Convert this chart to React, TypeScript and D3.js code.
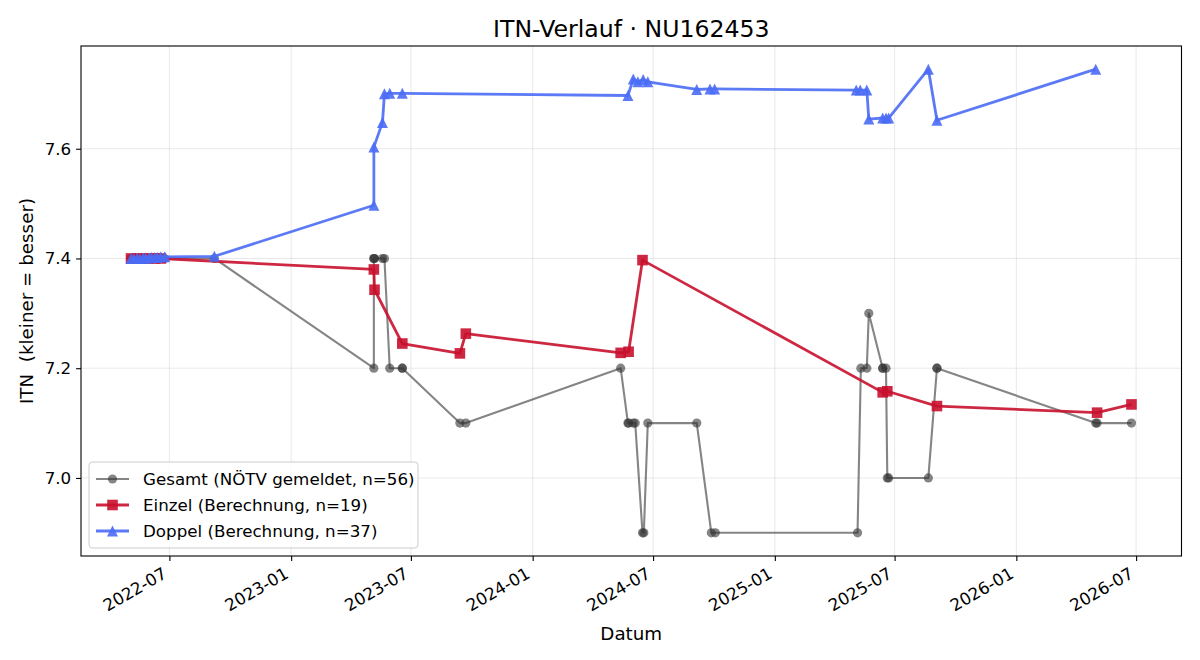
import React, { useRef, useEffect } from 'react';
import * as d3 from 'd3';

const W = 1200;
const H = 660;

// Gesamt (NÖTV gemeldet)
const gesamt: [string, number][] = [
  ['2022-05-04', 7.4], ['2022-05-04', 7.4], ['2022-05-08', 7.4], ['2022-05-13', 7.4], ['2022-05-13', 7.4],
  ['2022-05-17', 7.4], ['2022-05-22', 7.4], ['2022-05-22', 7.4], ['2022-05-26', 7.4], ['2022-05-31', 7.4],
  ['2022-05-31', 7.4], ['2022-06-04', 7.4], ['2022-06-09', 7.4], ['2022-06-09', 7.4], ['2022-06-13', 7.4],
  ['2022-06-18', 7.4], ['2022-06-18', 7.4], ['2022-06-24', 7.4],
  ['2022-09-07', 7.4],
  ['2023-05-06', 7.2], ['2023-05-06', 7.4], ['2023-05-06', 7.4], ['2023-05-07', 7.4],
  ['2023-05-19', 7.4], ['2023-05-22', 7.4], ['2023-05-30', 7.2],
  ['2023-06-18', 7.2], ['2023-06-18', 7.2],
  ['2023-09-13', 7.1], ['2023-09-22', 7.1],
  ['2024-05-13', 7.2], ['2024-05-24', 7.1], ['2024-05-25', 7.1], ['2024-06-01', 7.1], ['2024-06-04', 7.1],
  ['2024-06-15', 6.9], ['2024-06-17', 6.9], ['2024-06-23', 7.1],
  ['2024-09-05', 7.1], ['2024-09-27', 6.9], ['2024-10-03', 6.9],
  ['2025-05-06', 6.9], ['2025-05-11', 7.2], ['2025-05-20', 7.2], ['2025-05-23', 7.3],
  ['2025-06-13', 7.2], ['2025-06-13', 7.2], ['2025-06-18', 7.2], ['2025-06-20', 7.0], ['2025-06-22', 7.0],
  ['2025-08-21', 7.0], ['2025-09-03', 7.2], ['2025-09-03', 7.2],
  ['2026-05-01', 7.1], ['2026-05-03', 7.1], ['2026-06-24', 7.1],
];

// Einzel (Berechnung)
const einzel: [string, number][] = [
  ['2022-05-04', 7.4], ['2022-05-13', 7.4], ['2022-05-22', 7.4], ['2022-05-31', 7.4], ['2022-06-09', 7.4],
  ['2022-06-18', 7.4],
  ['2023-05-06', 7.38], ['2023-05-07', 7.343], ['2023-06-18', 7.245],
  ['2023-09-13', 7.227], ['2023-09-22', 7.263],
  ['2024-05-13', 7.228], ['2024-05-25', 7.23], ['2024-06-15', 7.397],
  ['2025-06-13', 7.156], ['2025-06-20', 7.158], ['2025-09-03', 7.131],
  ['2026-05-03', 7.119], ['2026-06-24', 7.134],
];

// Doppel (Berechnung)
const doppel: [string, number][] = [
  ['2022-05-04', 7.4], ['2022-05-08', 7.4], ['2022-05-13', 7.4], ['2022-05-17', 7.4], ['2022-05-22', 7.401],
  ['2022-05-26', 7.401], ['2022-05-31', 7.401], ['2022-06-04', 7.402], ['2022-06-09', 7.402], ['2022-06-13', 7.402],
  ['2022-06-18', 7.403], ['2022-06-24', 7.403],
  ['2022-09-07', 7.404],
  ['2023-05-06', 7.497], ['2023-05-06', 7.603], ['2023-05-19', 7.648], ['2023-05-22', 7.7],
  ['2023-05-30', 7.701], ['2023-06-18', 7.701],
  ['2024-05-24', 7.697], ['2024-06-01', 7.727], ['2024-06-08', 7.722], ['2024-06-16', 7.726], ['2024-06-23', 7.722],
  ['2024-09-05', 7.708], ['2024-09-25', 7.709], ['2024-10-02', 7.709],
  ['2025-05-04', 7.707], ['2025-05-10', 7.707], ['2025-05-20', 7.707], ['2025-05-23', 7.654],
  ['2025-06-13', 7.656], ['2025-06-18', 7.656], ['2025-06-22', 7.656],
  ['2025-08-21', 7.745], ['2025-09-03', 7.652], ['2026-05-01', 7.745],
];

const xTicks = ['2022-07-01', '2023-01-01', '2023-07-01', '2024-01-01', '2024-07-01',
  '2025-01-01', '2025-07-01', '2026-01-01', '2026-07-01'];
const yTicks = [7.0, 7.2, 7.4, 7.6];

const legendLabels = [
  'Gesamt (NÖTV gemeldet, n=56)',
  'Einzel (Berechnung, n=19)',
  'Doppel (Berechnung, n=37)',
];

const FONT = 'DejaVu Sans, sans-serif';

const series = [
  { data: gesamt, color: '#333333', alpha: 0.6, lw: 2.1, marker: 'circle' },
  { data: einzel, color: '#c8102e', alpha: 0.9, lw: 2.8, marker: 'square' },
  { data: doppel, color: '#4a6cf5', alpha: 0.9, lw: 2.8, marker: 'triangle' },
];

const markerPath = (kind: string) => {
  if (kind === 'square') return 'M-5.3,-5.3H5.3V5.3H-5.3Z';
  if (kind === 'triangle') return 'M0,-5.5L-5.5,5.5L5.5,5.5Z';
  return d3.symbol().type(d3.symbolCircle).size(Math.PI * 4.6 * 4.6)() as string;
};

const App = () => {
  const svgRef = useRef<SVGSVGElement>(null);

  useEffect(() => {
    const svg = d3.select(svgRef.current);
    svg.selectAll('*').remove();

    const margin = { top: 46, right: 18.5, bottom: 104, left: 81 };
    const innerWidth = W - margin.left - margin.right;
    const innerHeight = H - margin.top - margin.bottom;

    const allDates = [...gesamt, ...einzel, ...doppel].map(d => new Date(d[0]).getTime());
    const allVals = [...gesamt, ...einzel, ...doppel].map(d => d[1]);
    const [t0, t1] = d3.extent(allDates) as [number, number];
    const [v0, v1] = d3.extent(allVals) as [number, number];
    const tPad = (t1 - t0) * 0.05;
    const vPad = (v1 - v0) * 0.05;

    const x = d3.scaleUtc()
      .domain([new Date(t0 - tPad), new Date(t1 + tPad)])
      .range([0, innerWidth]);
    const y = d3.scaleLinear()
      .domain([v0 - vPad, v1 + vPad])
      .range([innerHeight, 0]);

    svg.append('rect').attr('width', W).attr('height', H).attr('fill', 'white');

    svg.append('text')
      .attr('x', margin.left + innerWidth / 2)
      .attr('y', 36.5)
      .attr('text-anchor', 'middle')
      .attr('font-family', FONT)
      .attr('font-size', 23.6)
      .text('ITN-Verlauf · NU162453');

    const g = svg.append('g').attr('transform', `translate(${margin.left},${margin.top})`);

    // grid
    g.append('g').selectAll('line')
      .data(xTicks)
      .join('line')
      .attr('x1', d => x(new Date(d))).attr('x2', d => x(new Date(d)))
      .attr('y1', 0).attr('y2', innerHeight)
      .attr('stroke', '#b0b0b0').attr('stroke-opacity', 0.35).attr('stroke-width', 0.8);
    g.append('g').selectAll('line')
      .data(yTicks)
      .join('line')
      .attr('x1', 0).attr('x2', innerWidth)
      .attr('y1', d => y(d)).attr('y2', d => y(d))
      .attr('stroke', '#b0b0b0').attr('stroke-opacity', 0.35).attr('stroke-width', 0.8);

    const line = d3.line<[string, number]>()
      .x(d => x(new Date(d[0])))
      .y(d => y(d[1]));

    series.forEach(s => {
      g.append('path')
        .datum(s.data)
        .attr('d', line)
        .attr('fill', 'none')
        .attr('stroke', s.color)
        .attr('stroke-opacity', s.alpha)
        .attr('stroke-width', s.lw)
        .attr('stroke-linejoin', 'round');
      g.append('g').selectAll('path')
        .data(s.data)
        .join('path')
        .attr('transform', d => `translate(${x(new Date(d[0]))},${y(d[1])})`)
        .attr('d', markerPath(s.marker))
        .attr('fill', s.color)
        .attr('fill-opacity', s.alpha);
    });

    // x axis
    const xAxis = g.append('g')
      .attr('transform', `translate(0,${innerHeight})`)
      .call(d3.axisBottom(x)
        .tickValues(xTicks.map(d => new Date(d)))
        .tickFormat(d => d3.utcFormat('%Y-%m')(d as Date))
        .tickSize(4.9)
        .tickSizeOuter(0));
    xAxis.select('.domain').remove();
    xAxis.selectAll('line').attr('stroke', 'black').attr('stroke-width', 1.1);
    xAxis.selectAll('text')
      .attr('x', 0).attr('y', 0).attr('dy', 0)
      .attr('text-anchor', 'end')
      .attr('transform', 'translate(-2,21) rotate(-30)')
      .attr('font-family', FONT)
      .attr('font-size', 16.7)
      .attr('fill', 'black');

    // y axis
    const yAxis = g.append('g')
      .call(d3.axisLeft(y)
        .tickValues(yTicks)
        .tickFormat(d3.format('.1f'))
        .tickSize(4.9)
        .tickPadding(4.9)
        .tickSizeOuter(0));
    yAxis.select('.domain').remove();
    yAxis.selectAll('line').attr('stroke', 'black').attr('stroke-width', 1.1);
    yAxis.selectAll('text')
      .attr('font-family', FONT)
      .attr('font-size', 16.7)
      .attr('fill', 'black');

    // spines
    g.append('rect')
      .attr('width', innerWidth).attr('height', innerHeight)
      .attr('fill', 'none').attr('stroke', 'black').attr('stroke-width', 1.1);

    svg.append('text')
      .attr('x', margin.left + innerWidth / 2)
      .attr('y', 640)
      .attr('text-anchor', 'middle')
      .attr('font-family', FONT)
      .attr('font-size', 18.3)
      .text('Datum');

    svg.append('text')
      .attr('transform', `translate(33,${margin.top + innerHeight / 2}) rotate(-90)`)
      .attr('text-anchor', 'middle')
      .attr('font-family', FONT)
      .attr('font-size', 18.3)
      .text('ITN  (kleiner = besser)')
      .style('white-space', 'pre');

    // legend
    const lg = g.append('g').attr('transform', `translate(8,${innerHeight - 8 - 86})`);
    lg.append('rect')
      .attr('width', 329).attr('height', 86).attr('rx', 3.5)
      .attr('fill', 'white').attr('fill-opacity', 0.8)
      .attr('stroke', '#cccccc').attr('stroke-width', 1);
    series.forEach((s, i) => {
      const cy = 17 + i * 26;
      lg.append('line')
        .attr('x1', 7).attr('x2', 40).attr('y1', cy).attr('y2', cy)
        .attr('stroke', s.color).attr('stroke-opacity', s.alpha).attr('stroke-width', s.lw);
      lg.append('path')
        .attr('transform', `translate(23.5,${cy})`)
        .attr('d', markerPath(s.marker))
        .attr('fill', s.color).attr('fill-opacity', s.alpha);
      lg.append('text')
        .attr('x', 54).attr('y', cy).attr('dy', '0.35em')
        .attr('font-family', FONT)
        .attr('font-size', 16.7)
        .text(legendLabels[i]);
    });
  }, []);

  return (
    <svg ref={svgRef} width={W} height={H} style={{ position: 'absolute', left: 0, top: 0 }} />
  );
};

export default App;
